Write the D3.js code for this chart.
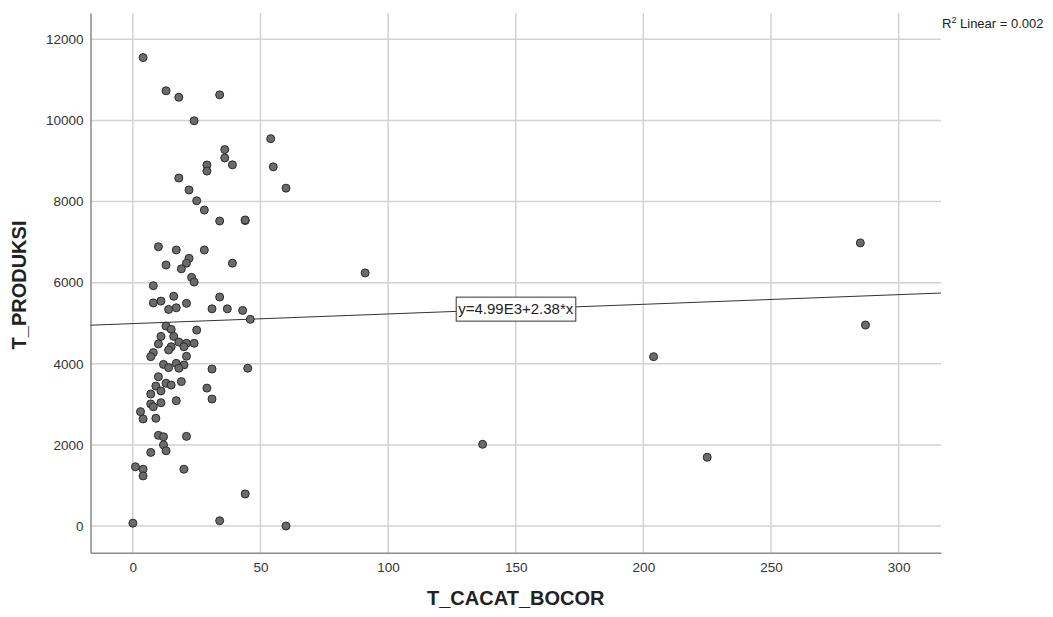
<!DOCTYPE html>
<html>
<head>
<meta charset="utf-8">
<script src="https://cdn.jsdelivr.net/npm/d3@7"></script>
<style>
  body { margin: 0; background: #fff; }
  text { font-family: Arial, "Liberation Sans", sans-serif; }
</style>
</head>
<body>
<script>
// data: T_CACAT_BOCOR (x) and T_PRODUKSI (y)
var cacatBocor = [4, 13, 18, 34, 24, 54, 36, 36, 29, 39,
  29, 55, 18, 60, 22, 25, 28, 34, 44, 44,
  10, 17, 28, 22, 13, 21, 19, 39, 23, 24,
  8, 16, 34, 8, 11, 21, 14, 17, 31, 37,
  43, 46, 13, 15, 25, 11, 16, 10, 18, 21,
  24, 15, 14, 20, 8, 7, 21, 12, 17, 20,
  14, 18, 31, 45, 10, 9, 13, 15, 19, 7,
  11, 29, 7, 8, 11, 17, 31, 3, 4, 9,
  10, 12, 21, 12, 13, 7, 1, 4, 4, 20,
  44, 0, 34, 60, 91, 137, 204, 225, 287, 285];
var produksi = [11550, 10730, 10570, 10630, 9990, 9550, 9280, 9075, 8900, 8905,
  8750, 8855, 8580, 8330, 8285, 8020, 7790, 7520, 7530, 7545,
  6885, 6805, 6805, 6600, 6435, 6480, 6340, 6480, 6130, 6015,
  5925, 5665, 5645, 5500, 5545, 5490, 5340, 5380, 5355, 5355,
  5315, 5095, 4930, 4850, 4830, 4675, 4675, 4490, 4535, 4505,
  4505, 4420, 4340, 4420, 4275, 4175, 4185, 3985, 4010, 3970,
  3905, 3890, 3870, 3890, 3680, 3450, 3520, 3475, 3560, 3255,
  3330, 3400, 3010, 2940, 3040, 3090, 3130, 2820, 2640, 2655,
  2235, 2200, 2210, 2000, 1855, 1815, 1460, 1400, 1235, 1400,
  790, 70, 130, 0, 6240, 2015, 4175, 1695, 4955, 6980];

// tick labels
var xTicks = [0, 50, 100, 150, 200, 250, 300];
var yTicks = [0, 2000, 4000, 6000, 8000, 10000, 12000];

// linear fit
var fitIntercept = 4990;
var fitSlope = 2.38;
var fitLabel = "y=4.99E3+2.38*x";
var rSquared = "0.002";

// svg container
var width = 1053;
var height = 617;

// plot area edges
var plot = { left: 90.5, right: 941, top: 13, bottom: 552.7 };

var svg = d3.select("body").append("svg")
    .attr("width", width)
    .attr("height", height);

// scales
var xScale = d3.scaleLinear()
    .domain([-16.6, 316.6])
    .range([plot.left, plot.right]);

var yScale = d3.scaleLinear()
    .domain([-658, 12648])
    .range([plot.bottom, plot.top]);

// gridlines
svg.append("g").selectAll("line")
    .data(xTicks)
    .enter()
    .append("line")
    .attr("x1", d => xScale(d))
    .attr("x2", d => xScale(d))
    .attr("y1", plot.top)
    .attr("y2", plot.bottom)
    .attr("stroke", "#d2d2d2")
    .attr("stroke-width", 1.5);

svg.append("g").selectAll("line")
    .data(yTicks)
    .enter()
    .append("line")
    .attr("x1", plot.left)
    .attr("x2", plot.right)
    .attr("y1", d => yScale(d))
    .attr("y2", d => yScale(d))
    .attr("stroke", "#d2d2d2")
    .attr("stroke-width", 1.5);

// axes
var xAxis = d3.axisBottom(xScale).tickValues(xTicks).tickSize(0).tickPadding(10);
var yAxis = d3.axisLeft(yScale).tickValues(yTicks).tickSize(0).tickPadding(7)
    .tickFormat(d3.format("d"));

var xG = svg.append("g")
    .attr("transform", `translate(0, ${plot.bottom})`)
    .call(xAxis);

var yG = svg.append("g")
    .attr("transform", `translate(${plot.left}, 0)`)
    .call(yAxis);

[xG, yG].forEach(g => {
  g.select(".domain").attr("stroke", "#8a8a8a").attr("stroke-width", 1.5);
  g.selectAll("text")
      .attr("font-size", 13.5)
      .attr("fill", "#333")
      .attr("font-family", "Arial, 'Liberation Sans', sans-serif");
});

// regression line
var lineX = xScale.domain();
svg.append("line")
    .attr("x1", xScale(lineX[0]))
    .attr("y1", yScale(fitIntercept + fitSlope * lineX[0]))
    .attr("x2", xScale(lineX[1]))
    .attr("y2", yScale(fitIntercept + fitSlope * lineX[1]))
    .attr("stroke", "#333")
    .attr("stroke-width", 1);

// points
svg.append("g").selectAll("circle")
    .data(cacatBocor)
    .enter()
    .append("circle")
    .attr("cx", d => xScale(d))
    .attr("cy", (d, i) => yScale(produksi[i]))
    .attr("r", 4)
    .attr("fill", "#6b6b6b")
    .attr("stroke", "#2a2a2a")
    .attr("stroke-width", 1);

// equation label on the line
var labelX = 150;
var labelG = svg.append("g")
    .attr("transform", `translate(${xScale(labelX)}, ${yScale(fitIntercept + fitSlope * labelX)})`);
var labelText = labelG.append("text")
    .attr("text-anchor", "middle")
    .attr("dy", "0.35em")
    .attr("font-size", 15)
    .attr("fill", "#222")
    .text(fitLabel);
var bb = labelText.node().getBBox();
labelG.insert("rect", "text")
    .attr("x", bb.x - 2)
    .attr("y", -12)
    .attr("width", bb.width + 4)
    .attr("height", 24)
    .attr("fill", "#fff")
    .attr("stroke", "#333")
    .attr("stroke-width", 1);

// R squared note
var rText = svg.append("text")
    .attr("x", 942)
    .attr("y", 28)
    .attr("font-size", 13)
    .attr("fill", "#222");
rText.append("tspan").text("R");
rText.append("tspan").attr("font-size", 9).attr("dy", -5).text("2");
rText.append("tspan").attr("dy", 5).text(" Linear = " + rSquared);

// axis titles
svg.append("text")
    .attr("x", (plot.left + plot.right) / 2)
    .attr("y", 605)
    .attr("text-anchor", "middle")
    .attr("font-size", 20)
    .attr("font-weight", "bold")
    .attr("fill", "#222")
    .text("T_CACAT_BOCOR");

svg.append("text")
    .attr("transform", "translate(26, 285) rotate(-90)")
    .attr("text-anchor", "middle")
    .attr("font-size", 20)
    .attr("font-weight", "bold")
    .attr("fill", "#222")
    .text("T_PRODUKSI");
</script>
</body>
</html>
